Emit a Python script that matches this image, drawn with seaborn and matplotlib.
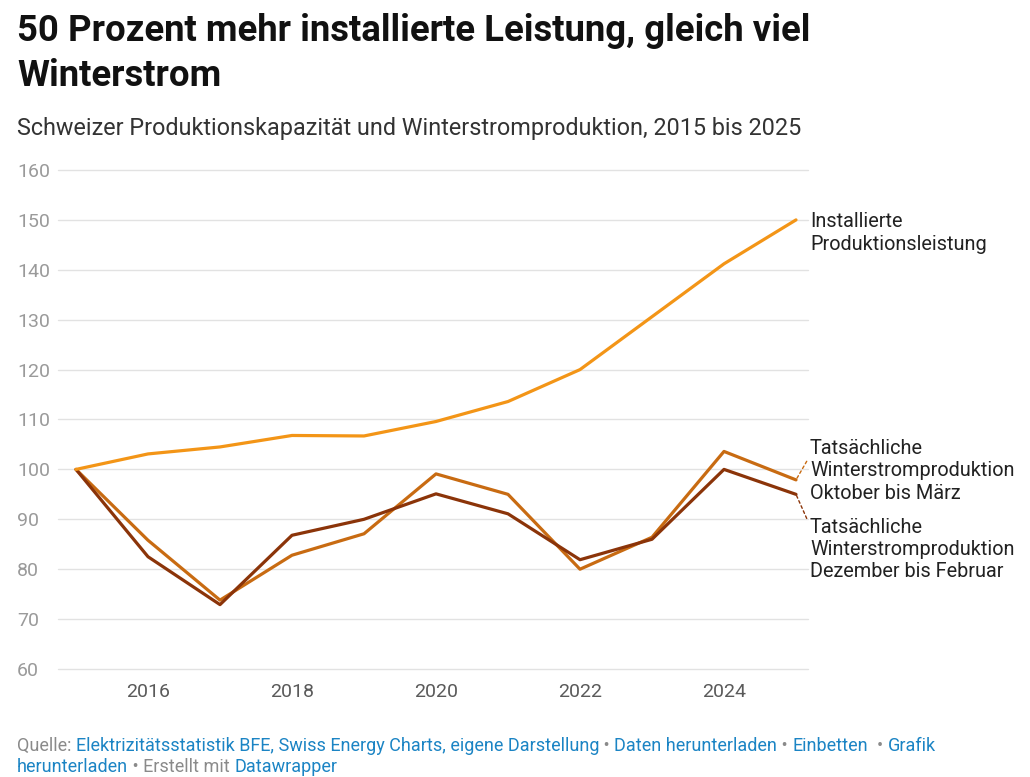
import numpy as np
import pandas as pd
import matplotlib
matplotlib.use("Agg")
import matplotlib.pyplot as plt
import seaborn as sns

years = [2015, 2016, 2017, 2018, 2019, 2020, 2021, 2022, 2023, 2024, 2025]
installiert = [100, 103.1, 104.5, 106.8, 106.7, 109.6, 113.6, 120.0, 130.6, 141.2, 150.0]
okt_maerz = [100, 85.8, 73.8, 82.8, 87.1, 99.1, 95.0, 80.0, 86.4, 103.6, 97.9]
dez_feb = [100, 82.5, 72.9, 86.8, 90.0, 95.1, 91.1, 81.9, 86.0, 100.0, 95.0]

series_names = ["Oktober bis März", "Dezember bis Februar", "Installiert"]
series_values = [okt_maerz, dez_feb, installiert]
colors = ["#c86b12", "#8b3409", "#f39517"]

label_install = "Installierte\nProduktionsleistung"
label_okt = "Tatsächliche\nWinterstromproduktion\nOktober bis März"
label_dez = "Tatsächliche\nWinterstromproduktion\nDezember bis Februar"

y_ticks = [60, 70, 80, 90, 100, 110, 120, 130, 140, 150, 160]
x_ticks = [2016, 2018, 2020, 2022, 2024]

df = pd.concat(
    [pd.DataFrame({"Jahr": years, "Wert": v, "Reihe": n}) for n, v in zip(series_names, series_values)],
    ignore_index=True,
)

sns.set_theme(style="white")
plt.rcParams["font.family"] = ["Roboto", "DejaVu Sans"]

W, H = 1030, 777
fig = plt.figure(figsize=(W / 100, H / 100), dpi=100)
ax = fig.add_axes([58 / W, 1 - 669 / H, 750 / W, (669 - 170) / H])

sns.lineplot(
    data=df, x="Jahr", y="Wert", hue="Reihe", hue_order=series_names,
    palette=colors, linewidth=2.3, ax=ax, legend=False, zorder=3,
)

ax.set_xlim(2015 - 18 / 72, 2025 + 12 / 72)
ax.set_ylim(60, 160)
ax.set_yticks(y_ticks)
ax.set_xticks(x_ticks)
ax.set_xticklabels([str(t) for t in x_ticks])
ax.grid(axis="y", color="#e2e2e2", linewidth=1)
ax.grid(axis="x", visible=False)
for gl in ax.get_ygridlines():
    gl.set_clip_on(False)
for s in ax.spines.values():
    s.set_visible(False)
ax.tick_params(axis="y", length=0, pad=29.5, labelsize=14, labelcolor="#9a9a9a")
for t in ax.get_yticklabels():
    t.set_horizontalalignment("left")
ax.tick_params(axis="x", length=0, pad=10, labelsize=14, labelcolor="#5a5a5a")
ax.set_xlabel("")
ax.set_ylabel("")

# labels at the line ends
lab_kw = dict(fontsize=14.3, color="#222222", linespacing=1.22, va="center", ha="left",
              annotation_clip=False, textcoords="offset pixels")
ax.annotate(label_install, xy=(years[-1], installiert[-1]), xytext=(14, -13), **lab_kw)
ax.annotate(label_okt, xy=(years[-1], okt_maerz[-1]), xytext=(14, 9),
            arrowprops=dict(arrowstyle="-", color=colors[0], lw=1, linestyle=(0, (2, 2)),
                            shrinkA=0, shrinkB=0, relpos=(0, 0.74)), **lab_kw)
ax.annotate(label_dez, xy=(years[-1], dez_feb[-1]), xytext=(14, -55),
            arrowprops=dict(arrowstyle="-", color=colors[1], lw=1, linestyle=(0, (2, 2)),
                            shrinkA=0, shrinkB=0, relpos=(0, 0.87)), **lab_kw)

# title and subtitle
fig.text(17 / W, 1 - 13 / H, "50 Prozent mehr installierte Leistung, gleich viel\nWinterstrom",
         fontsize=26.3, fontweight="bold", color="#111111", va="top", ha="left",
         linespacing=1.32)
fig.text(17 / W, 1 - 128 / H, "Schweizer Produktionskapazität und Winterstromproduktion, 2015 bis 2025",
         fontsize=16.8, color="#333333", va="center", ha="left")

# footer, pieces chained one after the other
gray = "#8a8a8a"
blue = "#1b84c4"
line1 = [("Quelle: ", gray), ("Elektrizitätsstatistik BFE, Swiss Energy Charts, eigene Darstellung", blue),
         (" • ", gray), ("Daten herunterladen", blue), (" • ", gray), ("Einbetten", blue),
         ("  • ", gray), ("Grafik", blue)]
line2 = [("herunterladen", blue), (" • Erstellt mit ", gray), ("Datawrapper", blue)]
for y_px, parts in [(751, line1), (772, line2)]:
    last = fig.text(17 / W, 1 - y_px / H, parts[0][0], color=parts[0][1], fontsize=13,
                    va="baseline", ha="left")
    for txt, col in parts[1:]:
        last = ax.annotate(txt, xy=(1, 0), xycoords=last, va="bottom", ha="left",
                           color=col, fontsize=13, annotation_clip=False)

fig.savefig("out.png", dpi=100)
